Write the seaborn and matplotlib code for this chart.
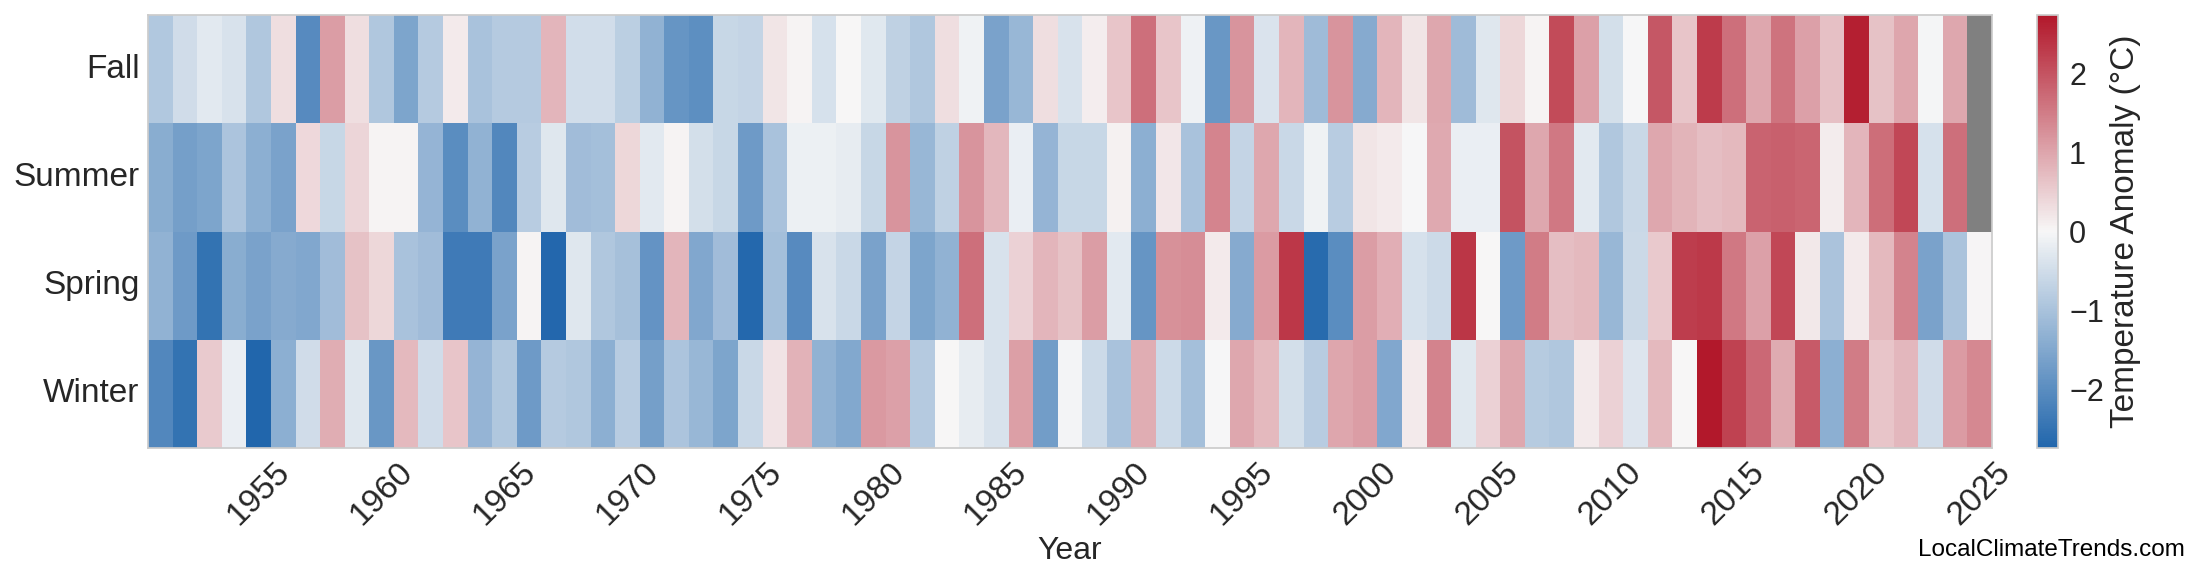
import numpy as np
import pandas as pd
import matplotlib
matplotlib.use("Agg")
import matplotlib.pyplot as plt
import seaborn as sns
from matplotlib.colors import LinearSegmentedColormap

# seasonal temperature anomalies (°C), 1951-2025
years = list(range(1951, 2026))
seasons = ["Fall", "Summer", "Spring", "Winter"]

fall = [-0.88, -0.5, -0.27, -0.4, -0.9, 0.3, -2.05, 1.1, 0.32, -0.9,
        -1.55, -0.85, 0.15, -1.0, -0.85,
        -0.85, 0.8, -0.48, -0.48, -0.75, -1.3, -1.85, -1.95, -0.6, -0.65,
        0.22, 0.05, -0.42, 0.0, -0.28,
        -0.72, -0.92, 0.32, -0.1, -1.6, -1.22, 0.32, -0.4, 0.12, 0.62,
        1.65, 0.6, -0.12, -1.8, 1.2,
        -0.38, 0.8, -1.12, 1.2, -1.45, 0.8, 0.22, 0.98, -1.12, -0.3,
        0.4, 0.05, 2.1, 1.05, -0.45,
        -0.02, 1.95, 0.62, 2.3, 1.65, 0.98, 1.62, 1.05, 0.68, 2.65,
        0.65, 1.0, -0.03, 0.98, np.nan]

summer = [-1.4, -1.65, -1.55, -0.95, -1.35, -1.6, 0.37, -0.6, 0.42, 0.05,
          0.05, -1.25, -2.0, -1.3, -2.1,
          -0.8, -0.3, -1.1, -1.05, 0.4, -0.27, 0.05, -0.47, -0.62, -1.75,
          -1.0, -0.14, -0.14, -0.2, -0.6,
          1.2, -1.2, -0.72, 1.2, 0.78, -0.15, -1.25, -0.6, -0.62, 0.08,
          -1.35, 0.2, -1.0, 1.4, -0.65,
          0.98, -0.58, -0.1, -0.8, 0.22, 0.15, -0.02, 0.95, -0.17, -0.15,
          2.0, 0.98, 1.55, -0.27, -0.9,
          -0.58, 0.97, 0.82, 0.7, 0.77, 1.8, 1.85, 1.78, 0.13, 0.8,
          1.68, 2.15, -0.42, 1.65, np.nan]

spring = [-1.3, -1.75, -2.5, -1.4, -1.6, -1.45, -1.5, -1.1, 0.65, 0.4,
          -1.0, -1.1, -2.35, -2.35, -1.6,
          0.05, -2.7, -0.3, -0.92, -1.03, -1.88, 0.8, -1.5, -1.1, -2.68,
          -1.05, -2.05, -0.4, -0.58, -1.6,
          -0.65, -1.55, -1.3, 1.65, -0.4, 0.45, 0.8, 0.65, 1.1, -0.27,
          -1.85, 1.25, 1.3, 0.15, -1.45,
          1.12, 2.35, -2.65, -2.0, 1.1, 0.88, -0.42, -0.55, 2.37, 0.0,
          -1.75, 1.5, 0.7, 0.75, -1.2,
          -0.57, 0.57, 2.28, 2.33, 1.55, 1.07, 2.15, 0.18, -0.98, 0.17,
          0.75, 1.42, -1.6, -0.98, 0.03]

winter = [-2.1, -2.5, 0.55, -0.15, -2.74, -1.35, -0.5, 0.9, -0.3, -1.8,
          0.75, -0.5, 0.6, -1.25, -0.9,
          -1.75, -0.85, -0.92, -1.35, -0.8, -1.65, -0.95, -1.2, -1.55, -0.58,
          0.25, 0.85, -1.3, -1.48, 1.15,
          1.05, -0.85, 0.02, -0.2, -0.4, 1.08, -1.7, -0.05, -0.55, -1.0,
          0.92, -0.55, -1.05, -0.02, 0.98,
          0.75, -0.45, -0.8, 1.0, 1.1, -1.5, 0.15, 1.42, -0.28, 0.45,
          0.97, -0.82, -0.92, 0.15, 0.45,
          -0.33, 0.75, 0.02, 2.72, 2.22, 1.75, 0.93, 1.92, -1.35, 1.5,
          0.62, 0.78, -0.5, 1.12, 1.35]

df = pd.DataFrame([fall, summer, spring, winter], index=seasons, columns=years)

sns.set_theme(style="whitegrid")
plt.rcParams["font.family"] = ["Liberation Sans", "DejaVu Sans"]

cmap = LinearSegmentedColormap.from_list("anom", ["#2166ac", "#f7f7f7", "#b2182b"])
lim = np.nanmax(np.abs(df.values))

fig = plt.figure(figsize=(22, 5.85), dpi=100)
ax = fig.add_axes([148 / 2200, 1 - 448 / 585, 1844 / 2200, 433 / 585])
cax = fig.add_axes([2037 / 2200, 1 - 448 / 585, 21 / 2200, 433 / 585])

sns.heatmap(df, ax=ax, cbar_ax=cax, cmap=cmap, vmin=-lim, vmax=lim,
            cbar_kws={"label": "Temperature Anomaly (°C)"})
ax.set_facecolor("gray")  # missing 2025 seasons
ax.grid(False)

# spines back on, light grey like the rest of the style
for s in ax.spines.values():
    s.set_visible(True)
    s.set_color("#cccccc")
    s.set_linewidth(1.25)

tick_years = [y for y in years if y % 5 == 0]
ax.set_xticks([years.index(y) + 0.5 for y in tick_years])
ax.set_xticklabels(tick_years, rotation=45, fontsize=24)
ax.set_yticklabels(seasons, rotation=0, fontsize=24)
ax.tick_params(length=0, pad=6)
ax.set_xlabel("Year", fontsize=23, labelpad=4)
ax.set_ylabel("")

cbar = ax.collections[0].colorbar
cbar.set_ticks([-2, -1, 0, 1, 2])
cbar.ax.tick_params(labelsize=22, length=0, pad=8)
cbar.set_label("Temperature Anomaly (°C)", fontsize=24)
cbar.outline.set_visible(True)
cbar.outline.set_linewidth(1.25)
cbar.outline.set_edgecolor("#cccccc")

fig.text(0.993, 0.05, "LocalClimateTrends.com", ha="right", va="baseline",
         fontsize=17.5, color="black")

fig.savefig("out.png", dpi=100)
